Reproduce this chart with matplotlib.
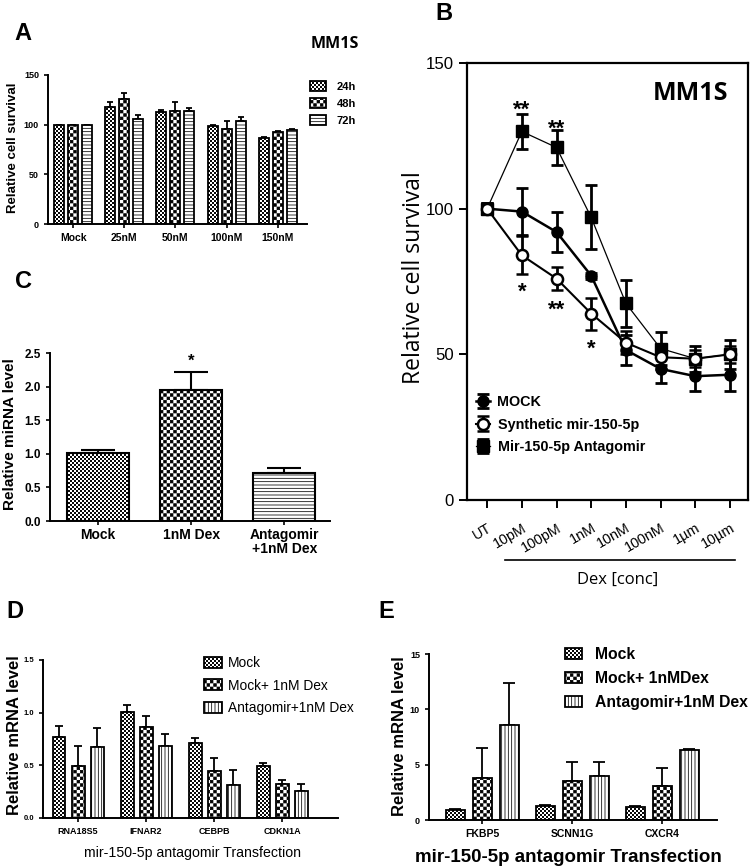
import matplotlib
matplotlib.use('Agg')
import matplotlib.pyplot as plt
import matplotlib.transforms as mtransforms
import matplotlib.hatch as mhatch
from matplotlib.path import Path
import numpy as np
from matplotlib import font_manager

W, H = 753, 868

names = set(f.name for f in font_manager.fontManager.ttflist)
HAS_NARROW = 'Liberation Sans Narrow' in names
NARROW = 'Liberation Sans Narrow' if HAS_NARROW else 'Liberation Sans'
NF = 1.0 if HAS_NARROW else 0.86   # shrink if the narrow face is missing
SANS = 'Liberation Sans'
OPEN = 'Open Sans'

HATCH_LW = 0.55
plt.rcParams['font.family'] = SANS
plt.rcParams['axes.linewidth'] = 1.4
plt.rcParams['xtick.major.width'] = 1.2
plt.rcParams['ytick.major.width'] = 1.2
plt.rcParams['hatch.linewidth'] = HATCH_LW


# checkerboard hatch, used in place of the '*' star hatch (10 cells per '*' per inch)
class CheckerHatch(mhatch.HatchPatternBase):
    def __init__(self, hatch, density):
        self.num_cells = 2 * ((hatch.count('*') * 10) // 2)
        self.num_vertices = (self.num_cells ** 2 // 2) * 5

    def set_vertices_and_codes(self, vertices, codes):
        n = self.num_cells
        step = 1.0 / n
        # squares shrunk by the hatch stroke so black and white share the area evenly
        side = max(0.3, 1 - HATCH_LW * 100 / 72 * n / 100)
        off = (1 - side) / 2
        sq = (np.array([[0, 0], [1, 0], [1, 1], [0, 1], [0, 0]]) * side + off) * step
        parts = []
        for i in range(n):
            for j in range(n):
                if (i + j) % 2 == 0:
                    parts.append(sq + [i * step, j * step])
        vertices[:] = np.concatenate(parts)
        c = [Path.MOVETO, Path.LINETO, Path.LINETO, Path.LINETO, Path.CLOSEPOLY]
        codes[:] = np.tile(c, len(parts))


mhatch._hatch_types = [CheckerHatch if t is mhatch.Stars else t for t in mhatch._hatch_types]

# ---- data ----
a_groups = ['Mock', '25nM', '50nM', '100nM', '150nM']
a_24h = [100, 118, 113, 99, 87]
a_24h_err = [0, 5, 2, 1, 1]
a_48h = [100, 126, 113.5, 96, 93]
a_48h_err = [0, 6, 9, 8, 1]
a_72h = [100, 106, 113.5, 103.5, 95]
a_72h_err = [0, 4, 3, 4, 1]

b_conc = ['UT', '10pM', '100pM', '1nM', '10nM', '100nM', '1µm', '10µm']
b_mock = [100, 99, 92, 77, 51.5, 45, 42.5, 43]
b_mock_err = [2, 8, 7, 1, 5, 5, 5, 5.5]
b_synth = [100, 84, 76, 64, 54, 49, 48.5, 50]
b_synth_err = [2, 6.5, 4, 5.5, 4, 4, 3, 3]
b_antag = [100, 126.5, 121, 97, 67.5, 52, 48.5, 50]
b_antag_err = [2, 6, 6, 11, 8, 5.5, 4.5, 5]

c_groups = ['Mock', '1nM Dex', 'Antagomir\n+1nM Dex']
c_vals = [1.01, 1.95, 0.71]
c_err = [0.05, 0.27, 0.08]

d_genes = ['RNA18S5', 'IFNAR2', 'CEBPB', 'CDKN1A']
d_mock = [0.77, 1.01, 0.71, 0.49]
d_mock_err = [0.10, 0.06, 0.05, 0.03]
d_dex = [0.49, 0.86, 0.45, 0.32]
d_dex_err = [0.19, 0.11, 0.12, 0.04]
d_antag = [0.67, 0.68, 0.31, 0.26]
d_antag_err = [0.18, 0.12, 0.15, 0.06]

e_genes = ['FKBP5', 'SCNN1G', 'CXCR4']
e_mock = [0.9, 1.3, 1.2]
e_mock_err = [0.05, 0.05, 0.05]
e_dex = [3.8, 3.5, 3.1]
e_dex_err = [2.7, 1.7, 1.6]
e_antag = [8.6, 4.0, 6.3]
e_antag_err = [3.8, 1.2, 0.1]

# fill styles: fine grey checker, coarse checker, lines
FINE = dict(facecolor='white', hatch='*****')
CHECK = dict(facecolor='white', hatch='***')
HLINES = dict(facecolor='white', hatch='-----')
VLINES = dict(facecolor='white', hatch='|||||')

fig = plt.figure(figsize=(W / 100, H / 100), dpi=100)


def px_axes(x0, y0, x1, y1):
    return fig.add_axes([x0 / W, 1 - y1 / H, (x1 - x0) / W, (y1 - y0) / H])


def ftext(x, y, s, **kw):
    fig.text(x / W, 1 - y / H, s, **kw)


def grouped(ax, series, errs, styles, labels, width, step, capsize, lw=1.3):
    n = len(series[0])
    x = np.arange(n)
    handles = []
    for k in range(len(series)):
        pos = x + (k - 1) * step
        st = styles[k]
        bars = ax.bar(pos, series[k], width, facecolor=st['facecolor'], edgecolor='black',
                      linewidth=lw, hatch=st['hatch'], label=labels[k], zorder=2)
        ax.errorbar(pos, series[k], yerr=[np.zeros(n), errs[k]], fmt='none', ecolor='black',
                    elinewidth=lw, capsize=capsize, capthick=lw, zorder=1)
        handles.append(bars)
    return handles


def clean(ax):
    ax.spines['top'].set_visible(False)
    ax.spines['right'].set_visible(False)
    ax.tick_params(direction='out', length=3)


# ---- panel A ----
axA = px_axes(48, 75, 307, 224)
hA = grouped(axA, [a_24h, a_48h, a_72h], [a_24h_err, a_48h_err, a_72h_err],
             [FINE, CHECK, HLINES], ['24h', '48h', '72h'], 0.195, 0.273, 2.5)
axA.set_xlim(-0.49, 4.57)
axA.set_ylim(0, 150)
axA.set_yticks([0, 50, 100, 150])
axA.set_xticks(range(len(a_groups)))
axA.set_xticklabels(a_groups, fontsize=7.5, fontweight='bold')
for t in axA.get_yticklabels():
    t.set_fontsize(6.5)
    t.set_fontweight('bold')
clean(axA)
axA.legend(handles=hA, labels=['24h', '48h', '72h'], loc='upper left',
           bbox_to_anchor=(310 / W, 1 - 81 / H), bbox_transform=fig.transFigure,
           frameon=False, prop=dict(size=8, weight='bold'), handlelength=1.4, handleheight=1.0,
           handletextpad=1.0, labelspacing=0.58, borderpad=0, borderaxespad=0)
ftext(13.5, 147.5, 'Relative cell survival', rotation=90, ha='center', va='center',
      fontsize=9.5, fontweight='bold')
ftext(335, 44, 'MM1S', ha='center', va='center', fontsize=11.5, fontweight='bold', family=OPEN)

# ---- panel B ----
axB = px_axes(467, 63, 748, 500)
xb = np.arange(len(b_conc))
eb_m = axB.errorbar(xb, b_mock, yerr=b_mock_err, fmt='-o', color='black', lw=1.8, ms=8,
                    mfc='black', mec='black', elinewidth=2, capsize=4, capthick=2, zorder=3,
                    label='MOCK')
eb_s = axB.errorbar(xb, b_synth, yerr=b_synth_err, fmt='-o', color='black', lw=1.5, ms=8,
                    mfc='white', mec='black', mew=1.8, elinewidth=2, capsize=4, capthick=2,
                    zorder=4, label='Synthetic mir-150-5p')
eb_a = axB.errorbar(xb, b_antag, yerr=b_antag_err, fmt='-s', color='black', lw=0.9, ms=8,
                    mfc='black', mec='black', elinewidth=2, capsize=4, capthick=2, zorder=2,
                    label='Mir-150-5p Antagomir')
axB.set_xlim(-0.58, 7.52)
axB.set_ylim(0, 150)
axB.set_yticks([0, 50, 100, 150])
axB.set_xticks(xb)
axB.set_xticklabels(b_conc, rotation=30, ha='right', va='top', rotation_mode='anchor',
                    fontsize=12 * NF, family=NARROW)
for t in axB.get_yticklabels():
    t.set_fontsize(14 * NF)
    t.set_family(NARROW)
axB.tick_params(direction='out', length=6, width=1.4)
axB.tick_params(axis='x', pad=9)
for s in axB.spines.values():
    s.set_linewidth(1.6)
axB.legend(handles=[eb_m, eb_s, eb_a], loc='upper left',
           bbox_to_anchor=(476 / W, 1 - 395 / H), bbox_transform=fig.transFigure,
           frameon=False, prop=dict(family=NARROW, size=12 * NF, weight='bold'),
           handlelength=1.0, handletextpad=0.5, labelspacing=0.6, borderpad=0, borderaxespad=0)
# significance stars (value where the star's centre sits)
sig_x = [1, 2, 1, 2, 3]
sig_y = [136.3, 129.8, 73.8, 67.6, 54.2]
sig_s = ['**', '**', '*', '**', '*']
for x, y, s in zip(sig_x, sig_y, sig_s):
    axB.text(x, y - 4.3, s, ha='center', va='baseline', fontsize=16, fontweight='bold')
axB.text(0.93, 0.93, 'MM1S', transform=axB.transAxes, ha='right', va='center',
         fontsize=18, fontweight='bold', family=OPEN)
tr = mtransforms.blended_transform_factory(axB.transData, axB.transAxes)
axB.plot([0.52, 7.15], [-0.137, -0.137], color='black', lw=1.2, transform=tr, clip_on=False)
axB.text(3.75, -0.183, 'Dex [conc]', transform=tr, ha='center', va='center', fontsize=12,
         family=OPEN)
ftext(414, 278, 'Relative cell survival', rotation=90, ha='center', va='center', fontsize=16.5,
      family=OPEN)

# ---- panel C ----
axC = px_axes(50, 353, 330, 521)
xc = np.arange(len(c_groups))
c_styles = [FINE, CHECK, HLINES]
for i in range(len(c_groups)):
    axC.bar(xc[i], c_vals[i], 0.667, facecolor=c_styles[i]['facecolor'], edgecolor='black',
            linewidth=1.5, hatch=c_styles[i]['hatch'], zorder=2)
axC.errorbar(xc, c_vals, yerr=[np.zeros(3), c_err], fmt='none', ecolor='black', elinewidth=1.5,
             capsize=12, capthick=1.5, zorder=1)
axC.text(1, c_vals[1] + c_err[1] + 0.05, '*', ha='center', va='bottom', fontsize=12,
         fontweight='bold')
axC.set_xlim(-0.516, 2.49)
axC.set_ylim(0, 2.5)
axC.set_yticks(np.arange(0, 2.51, 0.5))
axC.set_yticklabels(['0.0', '0.5', '1.0', '1.5', '2.0', '2.5'])
axC.set_xticks(xc)
axC.set_xticklabels(c_groups, fontsize=10, fontweight='bold', linespacing=1.05)
for t in axC.get_yticklabels():
    t.set_fontsize(8.5)
    t.set_fontweight('bold')
clean(axC)
axC.tick_params(axis='x', pad=2)
ftext(10, 434, 'Relative miRNA level', rotation=90, ha='center', va='center', fontsize=11,
      fontweight='bold')

# ---- panel D ----
axD = px_axes(43, 660, 338, 818)
hD = grouped(axD, [d_mock, d_dex, d_antag], [d_mock_err, d_dex_err, d_antag_err],
             [FINE, CHECK, VLINES], ['Mock', 'Mock+ 1nM Dex', 'Antagomir+1nM Dex'],
             0.19, 0.28, 3)
axD.set_xlim(-0.515, 3.82)
axD.set_ylim(0, 1.5)
axD.set_yticks([0, 0.5, 1.0, 1.5])
axD.set_yticklabels(['0.0', '0.5', '1.0', '1.5'])
axD.set_xticks(range(len(d_genes)))
axD.set_xticklabels(d_genes, fontsize=6.5, fontweight='bold')
for t in axD.get_yticklabels():
    t.set_fontsize(5.5)
    t.set_fontweight('bold')
clean(axD)
axD.legend(handles=hD, labels=['Mock', 'Mock+ 1nM Dex', 'Antagomir+1nM Dex'], loc='upper left',
           bbox_to_anchor=(204 / W, 1 - 656 / H), bbox_transform=fig.transFigure,
           frameon=False, prop=dict(size=11.5 * NF, family=NARROW), handlelength=1.3,
           handleheight=0.9, handletextpad=0.45, labelspacing=0.62, borderpad=0,
           borderaxespad=0)
ftext(15, 735, 'Relative mRNA level', rotation=90, ha='center', va='center', fontsize=12,
      fontweight='bold')
ftext(192, 853, 'mir-150-5p antagomir Transfection', ha='center', va='center',
      fontsize=11.8 * NF, family=NARROW)

# ---- panel E ----
axE = px_axes(429, 654, 717, 820)
hE = grouped(axE, [e_mock, e_dex, e_antag], [e_mock_err, e_dex_err, e_antag_err],
             [FINE, CHECK, VLINES], ['Mock', 'Mock+ 1nMDex', 'Antagomir+1nM Dex'],
             0.21, 0.30, 4.5)
axE.set_xlim(-0.59, 2.61)
axE.set_ylim(0, 15)
axE.set_yticks([0, 5, 10, 15])
axE.set_xticks(range(len(e_genes)))
axE.set_xticklabels(e_genes, fontsize=7.5, fontweight='bold')
for t in axE.get_yticklabels():
    t.set_fontsize(6.5)
    t.set_fontweight('bold')
clean(axE)
axE.legend(handles=hE, labels=['Mock', 'Mock+ 1nMDex', 'Antagomir+1nM Dex'], loc='upper left',
           bbox_to_anchor=(565 / W, 1 - 647 / H), bbox_transform=fig.transFigure,
           frameon=False, prop=dict(size=11.3, weight='bold'), handlelength=1.1,
           handleheight=0.75, handletextpad=0.8, labelspacing=0.58, borderpad=0,
           borderaxespad=0)
ftext(400, 736, 'Relative mRNA level', rotation=90, ha='center', va='center', fontsize=12,
      fontweight='bold')
ftext(568, 857, 'mir-150-5p antagomir Transfection', ha='center', va='center', fontsize=13.5,
      fontweight='bold')

# ---- panel letters ----
for lx, ly, s in [(23, 33, 'A'), (444, 13, 'B'), (23, 282, 'C'), (15, 612, 'D'), (386, 612, 'E')]:
    ftext(lx, ly, s, ha='center', va='center', fontsize=17, fontweight='bold')

fig.savefig('out.png', dpi=100)
